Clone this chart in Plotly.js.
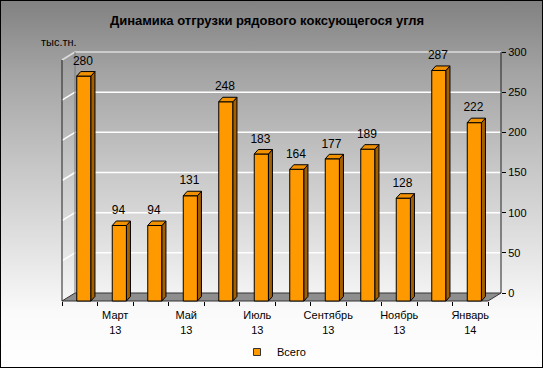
<!DOCTYPE html>
<html><head><meta charset="utf-8">
<script src="https://cdn.plot.ly/plotly-3.0.1.min.js"></script>
<style>
html,body{margin:0;padding:0;background:#fff;}
#wrap{position:relative;width:543px;height:368px;overflow:hidden;
 background:linear-gradient(to bottom,#818181 0%,#a4a4a4 20%,#c6c6c6 45%,#e6e6e6 70%,#fafafa 85%,#ffffff 100%);}
#chart{position:absolute;left:0;top:0;width:543px;height:368px;}
#frame{position:absolute;left:0;top:0;width:543px;height:368px;box-sizing:border-box;border:1px solid #000;pointer-events:none;}
</style></head><body>
<div id="wrap"><div id="chart"></div><div id="frame"></div></div>
<script>
// ---- data ----
const months = ['Февраль','Март','Апрель','Май','Июнь','Июль','Август','Сентябрь','Октябрь','Ноябрь','Декабрь','Январь'];
const years  = ['13','13','13','13','13','13','13','13','13','13','13','14'];
const values = [280, 94, 94, 131, 248, 183, 164, 177, 189, 128, 287, 222];
const labeledIdx = [1, 3, 5, 7, 9, 11];
const yTicks = [0, 50, 100, 150, 200, 250, 300];
const seriesName = 'Всего';
const chartTitle = 'Динамика отгрузки рядового коксующегося угля';
const unitLabel = 'тыс.тн.';

// ---- geometry (pixels) ----
const W = 543, H = 368;
const FL = 62, FR = 488, Y0 = 301;       // front plane
const UY = 241 / 300;                    // px per unit
const DXP = 13, DYP = 8;                 // wall depth offset
const PL = 58, PR = 506, PT = 44, PB = 308;
const N = values.length;
const UX = (FR - FL) / N;
const xr = [-0.5 - (FL - PL) / UX, N - 0.5 + (PR - FR) / UX];
const yr = [-(PB - Y0) / UY, (Y0 - PT) / UY];
const DXu = DXP / UX, DYu = DYP / UY;
const barOff = -3 / UX, barW = 14.2 / UX;
const bdx = 4 / UX, bdy = 4.5 / UY;

const FONT = 'Liberation Sans, Arial, sans-serif';
const orange = '#FF9900', side = '#A35F00', topc = '#F29100';

const idx = values.map((v, i) => i);

// side and top faces
const sx = [], sy = [], tx = [], ty = [];
values.forEach((v, i) => {
  const xl = i + barOff, xrr = i + barOff + barW;
  sx.push(xrr, xrr + bdx, xrr + bdx, xrr, xrr, null);
  sy.push(0, bdy, v + bdy, v, 0, null);
  tx.push(xl, xrr, xrr + bdx, xl + bdx, xl, null);
  ty.push(v, v, v + bdy, v + bdy, v, null);
});

const traces = [
  {type: 'bar', x: idx, y: values, offset: barOff, width: barW,
   marker: {color: orange, line: {color: '#000', width: 1}}, showlegend: false, hoverinfo: 'skip'},
  {type: 'scatter', x: sx, y: sy, mode: 'lines', fill: 'toself', fillcolor: side,
   line: {color: '#000', width: 1}, showlegend: false, hoverinfo: 'skip'},
  {type: 'scatter', x: tx, y: ty, mode: 'lines', fill: 'toself', fillcolor: topc,
   line: {color: '#000', width: 1}, showlegend: false, hoverinfo: 'skip'},
  {type: 'scatter', x: idx.map(i => i + 0.09), y: values.map(v => v + 14.3 / UY),
   mode: 'text', text: values.map(String), textposition: 'middle center',
   textfont: {family: FONT, size: 12, color: '#000'}, cliponaxis: false,
   showlegend: false, hoverinfo: 'skip'},
  {type: 'scatter', x: [null], y: [null], mode: 'markers', name: seriesName,
   marker: {symbol: 'square', size: 7, color: orange, line: {color: '#333', width: 1}},
   showlegend: true, hoverinfo: 'skip'},
  {type: 'scatter', x: [0], y: [0], yaxis: 'y2', mode: 'markers', marker: {opacity: 0},
   showlegend: false, hoverinfo: 'skip'}
];

// wall shapes
const shapes = [];
const L = -0.5, R = N - 0.5;
shapes.push({type: 'path', layer: 'below', xref: 'x', yref: 'y',
  path: `M${L},0 L${R},0 L${R + DXu},${DYu} L${L + DXu},${DYu} Z`,
  fillcolor: '#8e8e8e', line: {color: '#333', width: 1}});
yTicks.forEach(v => {
  if (v === 0) return;
  const col = v === 300 ? '#dcdcdc' : '#ffffff';
  shapes.push({type: 'line', layer: 'below', xref: 'x', yref: 'y',
    x0: L + DXu, y0: v + DYu, x1: R + DXu, y1: v + DYu, line: {color: col, width: 1.5}});
  shapes.push({type: 'line', layer: 'below', xref: 'x', yref: 'y',
    x0: L, y0: v, x1: L + DXu, y1: v + DYu, line: {color: col, width: 1.5}});
});
shapes.push({type: 'line', layer: 'below', xref: 'x', yref: 'y',
  x0: L + DXu, y0: DYu, x1: L + DXu, y1: 300 + DYu, line: {color: '#7a7a7a', width: 1}});
shapes.push({type: 'line', layer: 'below', xref: 'x', yref: 'y',
  x0: L, y0: 0, x1: L, y1: 300, line: {color: '#222', width: 1}});
shapes.push({type: 'line', layer: 'below', xref: 'x', yref: 'y',
  x0: R + DXu, y0: DYu, x1: R + DXu, y1: 300 + DYu, line: {color: '#222', width: 1}});

const pw = PR - PL, ph = PB - PT;
const boundaries = [];
for (let i = 0; i <= N; i++) boundaries.push(i - 0.5);

const layout = {
  width: W, height: H,
  margin: {l: PL, r: W - PR, t: PT, b: H - PB, pad: 0, autoexpand: false},
  paper_bgcolor: 'rgba(0,0,0,0)', plot_bgcolor: 'rgba(0,0,0,0)',
  font: {family: FONT, size: 11, color: '#000'},
  title: {text: '<b>' + chartTitle + '</b>', font: {family: FONT, size: 13, color: '#000'},
    xref: 'paper', x: (267 - PL) / pw, xanchor: 'center', yref: 'container', y: 1 - 20 / H, yanchor: 'middle'},
  showlegend: true,
  legend: {orientation: 'h', xref: 'container', x: 237 / W, xanchor: 'left',
    yref: 'container', y: (H - 352) / H, yanchor: 'middle',
    bgcolor: 'rgba(0,0,0,0)', font: {family: FONT, size: 11, color: '#000'}},
  xaxis: {range: xr, anchor: 'free', position: (PB - Y0) / ph, tickmode: 'array',
    tickvals: labeledIdx, ticktext: labeledIdx.map(i => months[i] + '<br>' + years[i]),
    ticks: 'outside', ticklen: 4, tickcolor: 'rgba(0,0,0,0)',
    minor: {tickmode: 'array', tickvals: boundaries, ticks: 'outside', ticklen: 4, tickcolor: '#000', tickwidth: 1, showgrid: false},
    showgrid: false, zeroline: false, showline: false, fixedrange: true,
    tickfont: {family: FONT, size: 11, color: '#000'}},
  yaxis: {range: yr, showticklabels: false, showgrid: false, zeroline: false, showline: false, ticks: '', fixedrange: true},
  yaxis2: {range: [yr[0] - DYu, yr[1] - DYu], overlaying: 'y', side: 'right', anchor: 'free',
    position: (R + DXu - xr[0]) / (xr[1] - xr[0]),
    tickmode: 'array', tickvals: yTicks, ticks: 'outside', ticklen: 4, tickcolor: '#000',
    showgrid: false, zeroline: false, showline: false, fixedrange: true,
    tickfont: {family: FONT, size: 11, color: '#000'}},
  shapes: shapes,
  annotations: [{text: unitLabel, xref: 'paper', yref: 'paper', x: (39 - PL) / pw, xanchor: 'left',
    y: (PB - 42) / ph, yanchor: 'middle', showarrow: false, font: {family: FONT, size: 11, color: '#000'}}],
  hovermode: false, bargap: 0
};

Plotly.newPlot('chart', traces, layout, {displayModeBar: false, staticPlot: true});
</script>
</body></html>
